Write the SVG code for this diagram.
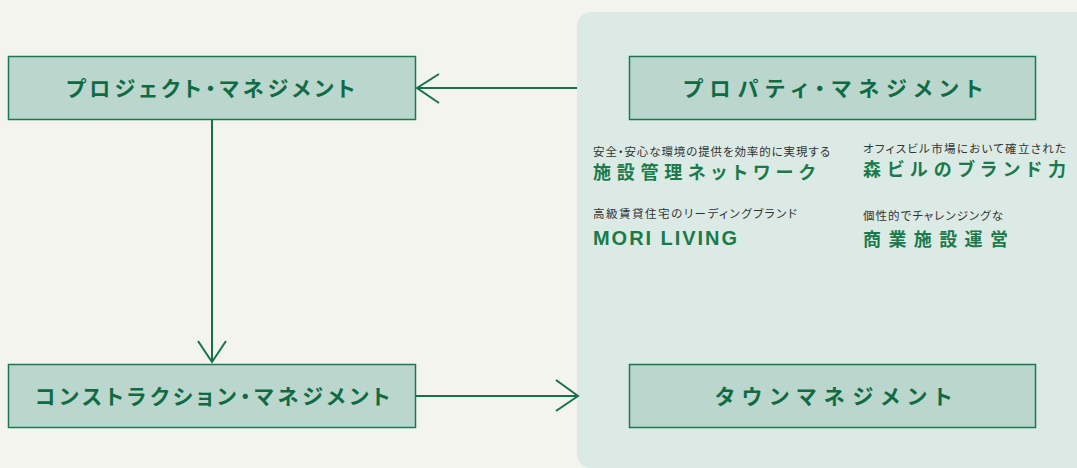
<svg xmlns="http://www.w3.org/2000/svg" width="1077" height="468" viewBox="0 0 1077 468">
<defs>
<style>
.box{fill:#bad6cd;stroke:#1c7a50;stroke-width:1.5}
.title{font-family:"Noto Sans CJK JP",sans-serif;font-weight:700;font-size:21px;fill:#0f6b44;font-feature-settings:"palt"}
.small{font-family:"Noto Sans CJK JP",sans-serif;font-size:11.5px;fill:#333;font-feature-settings:"palt"}
.big{font-family:"Noto Sans CJK JP",sans-serif;font-weight:700;font-size:18px;fill:#1a7a4c;font-feature-settings:"palt"}
.latin{font-family:"Liberation Sans",Arial,sans-serif;font-weight:700;font-size:20px;fill:#1a7a4c}
.conn{stroke:#17704a;stroke-width:2;fill:none}
</style>
</defs>
<rect width="1077" height="468" fill="#f4f4ef"/>
<rect id="panel" x="577" y="12" width="520" height="456" rx="14" fill="#dbeae4"/>
<g id="connectors">
<path class="conn" d="M577 88 H417"/>
<path class="conn" d="M439 74 L417 88 L439 103"/>
<path class="conn" d="M212 120 V362"/>
<path class="conn" d="M198 341 L212 362 L226 341"/>
<path class="conn" d="M416 396 H578"/>
<path class="conn" d="M556 380 L578 396 L556 411"/>
</g>
<g id="pj">
<rect class="box" x="8.5" y="56.5" width="407" height="63"/>
<text class="title" x="66" y="95.5" textLength="289" lengthAdjust="spacing">プロジェクト・マネジメント</text>
</g>
<g id="pm">
<rect class="box" x="629.5" y="56.5" width="406" height="63"/>
<text class="title" x="683" y="95.5" textLength="300" lengthAdjust="spacing">プロパティ・マネジメント</text>
</g>
<g id="cm">
<rect class="box" x="8.5" y="364.5" width="407" height="63"/>
<text class="title" x="35" y="403.5" textLength="355" lengthAdjust="spacing">コンストラクション・マネジメント</text>
</g>
<g id="tm">
<rect class="box" x="629.5" y="364.5" width="406" height="63"/>
<text class="title" x="715" y="403.5" textLength="237" lengthAdjust="spacing">タウンマネジメント</text>
</g>
<g id="f1">
<text class="small" x="593" y="156" textLength="237" lengthAdjust="spacing">安全・安心な環境の提供を効率的に実現する</text>
<text class="big" x="593" y="179" textLength="222" lengthAdjust="spacing">施設管理ネットワーク</text>
</g>
<g id="f2">
<text class="small" x="863" y="153" textLength="203" lengthAdjust="spacing">オフィスビル市場において確立された</text>
<text class="big" x="863" y="176" textLength="203" lengthAdjust="spacing">森ビルのブランド力</text>
</g>
<g id="f3">
<text class="small" x="593" y="218" textLength="204" lengthAdjust="spacing">高級賃貸住宅のリーディングブランド</text>
<text class="latin" x="593" y="245" textLength="144" lengthAdjust="spacing">MORI LIVING</text>
</g>
<g id="f4">
<text class="small" x="863" y="220" textLength="140" lengthAdjust="spacing">個性的でチャレンジングな</text>
<text class="big" x="863" y="246" textLength="145" lengthAdjust="spacing">商業施設運営</text>
</g>
</svg>
